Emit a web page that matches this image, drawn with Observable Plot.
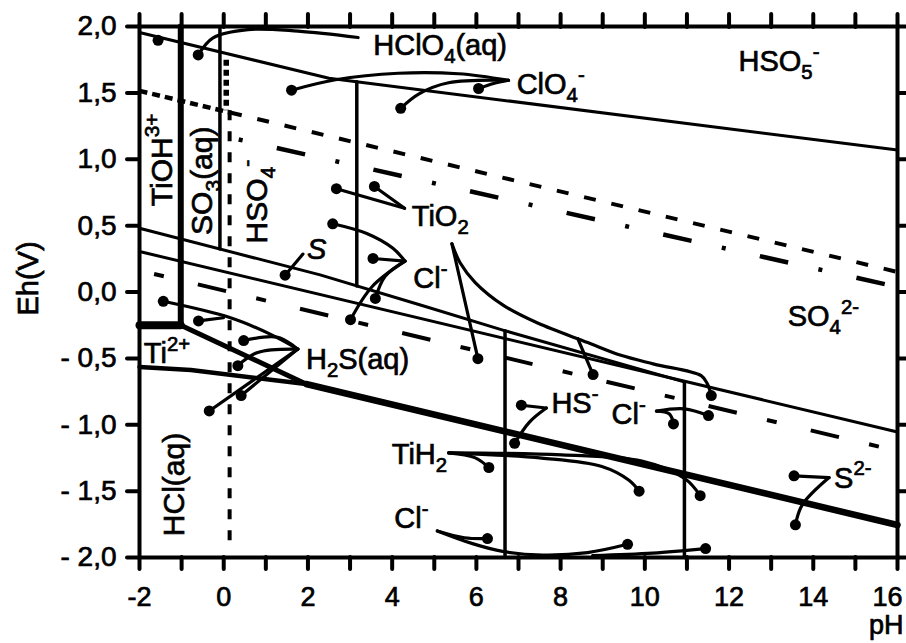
<!DOCTYPE html>
<html>
<head>
<meta charset="utf-8">
<script src="https://cdn.jsdelivr.net/npm/d3@7"></script>
<script src="https://cdn.jsdelivr.net/npm/@observablehq/plot@0.6"></script>
<style>
  body { margin: 0; background: #fff; }
  #chart svg { display: block; }
  #chart svg text { stroke: #000; stroke-width: 0.7px; }
</style>
</head>
<body>
<div id="chart"></div>
<script>
// ---------- axis ticks ----------
const phTicks = [-2, -1, 0, 1, 2, 3, 4, 5, 6, 7, 8, 9, 10, 11, 12, 13, 14, 15, 16];
const phTickLabels = ["-2", "", "0", "", "2", "", "4", "", "6", "", "8", "", "10", "", "12", "", "14", "", "16"];
const phEdgeTicks = [16];
const ehTicks = [-2, -1.5, -1, -0.5, 0, 0.5, 1, 1.5, 2];
const ehTickLabels = ["- 2,0", "- 1,5", "- 1,0", "- 0,5", "0,0", "0,5", "1,0", "1,5", "2,0"];

// ---------- boundary lines [pH, Eh] ----------
const lineHSO5 = [[-2, 1.955], [2.5, 1.61], [16, 1.069]];
const lineA = [[-2, 0.48], [2.289, 0.129], [4.671, -0.098], [6.648, -0.289], [10.934, -0.677]];
const lineB = [[-2, 0.305], [16, -1.054]];
const vTiOH = [[-1.02, 2], [-1.02, -0.25]];
const hTi2 = [[-2, -0.25], [-1.02, -0.25]];
const diagTi2 = [[-1.02, -0.25], [1.955, -0.693]];
const lowTi2 = [[-2, -0.565], [-0.78, -0.588], [1.955, -0.693]];
const lowThick = [[1.955, -0.693], [16, -1.755]];
const vSO3 = [[-0.09, 2], [-0.09, 0.324]];
const vTiO2 = [[3.16, 1.584], [3.16, 0.046]];
const vHS = [[6.68, -0.292], [6.68, -2]];
const vCl = [[10.94, -0.677], [10.94, -2]];
// dashed / dotted lines
const dotO2 = [[-2, 1.515], [0.15, 1.352]];
const dashO2 = [[0.15, 1.352], [16, 0.151]];
const dashDotUp = [[0.171, 1.162], [16, 0.038]];
const dashDotLow = [[-2, 0.162], [16, -1.198]];
const dotVert = [[0.06, 1.75], [0.06, 1.37]];
const dashVert = [[0.14, 1.37], [0.14, -1.94]];

// ---------- leader lines ----------
const leaders = [
  [[-0.606, 1.786], [-0.253, 1.915], [0.577, 1.977], [1.764, 1.965], [3.191, 1.917]],
  [[1.61, 1.52], [2.654, 1.599], [4.148, 1.648], [5.574, 1.644], [6.763, 1.595]],
  [[4.203, 1.384], [4.628, 1.491], [5.338, 1.576], [6.763, 1.595]],
  [[6.052, 1.533], [6.407, 1.571], [6.763, 1.595]],
  [[2.676, 0.778], [4.295, 0.631]],
  [[3.578, 0.795], [4.295, 0.631]],
  [[5.419, 0.363], [6.036, -0.502]],
  [[5.419, 0.363], [5.613, 0.2205], [5.973, 0.071], [6.643, -0.101], [7.454, -0.234], [8.646, -0.381],
   [9.432, -0.477], [10.218, -0.543], [11.337, -0.63], [11.481, -0.69], [11.578, -0.78]],
  [[8.407, -0.352], [8.771, -0.622]],
  [[2.588, 0.514], [3.397, 0.4405], [4.018, 0.329], [4.305, 0.232]],
  [[3.545, 0.2525], [4.305, 0.232]],
  [[3.601, -0.0486], [3.834, 0.118], [4.305, 0.232]],
  [[3.011, -0.2085], [3.527, 0.0416], [4.305, 0.232]],
  [[1.458, 0.1263], [1.881, 0.2857]],
  [[-1.435, -0.07], [0.16, -0.194], [1.114, -0.319], [1.758, -0.43]],
  [[-0.599, -0.218], [-0.006, -0.194]],
  [[0.474, -0.366], [1.281, -0.341], [1.758, -0.43]],
  [[0.336, -0.555], [0.809, -0.455], [1.758, -0.43]],
  [[-0.3435, -0.896], [1.758, -0.43]],
  [[0.414, -0.78], [1.758, -0.43]],
  [[7.067, -0.853], [7.661, -0.874]],
  [[7.661, -0.874], [7.26, -0.98], [6.908, -1.1395]],
  [[10.275, -0.897], [10.94, -0.88], [11.511, -0.931]],
  [[10.275, -0.897], [10.584, -0.9185], [10.68, -0.994]],
  [[5.342, -1.2115], [5.961, -1.2475], [6.296, -1.322]],
  [[5.342, -1.2115], [7.553, -1.251], [8.98, -1.3146], [9.624, -1.4184], [9.864, -1.5006]],
  [[5.342, -1.2115], [8.027, -1.227], [9.929, -1.2744], [10.954, -1.407], [11.314, -1.534]],
  [[5.073, -1.8], [5.716, -1.851], [6.263, -1.857]],
  [[5.073, -1.8], [5.908, -1.8956], [6.622, -1.954], [7.573, -1.981], [8.641, -1.963], [9.59, -1.9006]],
  [[8.76, -1.9857], [10.185, -1.967], [11.443, -1.933]],
  [[13.543, -1.385], [14.374, -1.398]],
  [[14.374, -1.398], [13.739, -1.603], [13.576, -1.754]]
];

// leader end dots
const leaderDots = [
  [-1.559, 1.896], [-0.606, 1.786], [1.61, 1.52], [4.203, 1.384], [6.052, 1.533],
  [2.676, 0.778], [3.578, 0.795], [6.036, -0.502], [11.578, -0.78], [8.771, -0.622],
  [2.588, 0.514], [3.545, 0.2525], [3.601, -0.0486], [3.011, -0.2085], [1.458, 0.1263],
  [-1.435, -0.07], [-0.599, -0.218], [0.474, -0.366], [0.336, -0.555], [-0.3435, -0.896], [0.414, -0.78],
  [7.067, -0.853], [6.908, -1.1395], [11.511, -0.931], [10.68, -0.994],
  [6.296, -1.322], [9.864, -1.5006], [11.314, -1.534],
  [6.263, -1.857], [9.59, -1.9006], [11.443, -1.933],
  [13.543, -1.385], [13.576, -1.754]
];

// ---------- species labels ----------
const labelText = ["HClO_4(aq)", "ClO_4^-", "HSO_5^-", "TiO_2", "Cl^-", "Ti^{2+}", "H_2S(aq)",
                   "HS^-", "Cl^-", "TiH_2", "Cl^-", "S^{2-}", "SO_4^{2-}"];
const labelPH = [3.551, 6.956, 12.225, 4.465, 4.501, -1.897, 1.952, 7.781, 9.209, 3.991, 4.051, 14.495, 13.393];
const labelEh = [1.789, 1.49, 1.662, 0.496, 0.029, -0.538, -0.58, -0.911, -0.998, -1.298, -1.78, -1.473, -0.255];
const italicText = ["S"];
const italicPH = [1.977];
const italicEh = [0.248];
const vertText = ["TiOH^{3+}", "SO_3(aq)", "HSO_4^-", "HCl(aq)"];
const vertPH = [-1.24, -0.284, 1.024, -0.935];
const vertEh = [0.646, 0.43, 0.366, -1.839];

// ---------- build ----------
const toRows = (t, x, y) => t.map((s, i) => ({text: s, pH: x[i], Eh: y[i]}));
const labels = toRows(labelText, labelPH, labelEh);
const italicLabels = toRows(italicText, italicPH, italicEh);
const vertLabels = toRows(vertText, vertPH, vertEh);
const phFmt = new Map(phTicks.map((d, i) => [d, phTickLabels[i]]));
const ehFmt = new Map(ehTicks.map((d, i) => [d, ehTickLabels[i]]));

const ln = (pts, opts) => Plot.line(pts, {x: d => d[0], y: d => d[1], stroke: "black", ...opts});

const chart = Plot.plot({
  width: 906, height: 643,
  marginLeft: 139, marginRight: 9, marginTop: 26, marginBottom: 86,
  x: {domain: [-2, 16]},
  y: {domain: [-2, 2]},
  style: {fontFamily: "'Liberation Sans', Arial, sans-serif", background: "white", color: "black", overflow: "visible"},
  marks: [
    // boundaries
    ln(lineHSO5, {strokeWidth: 3}),
    ln(lineA, {strokeWidth: 3}),
    ln(lineB, {strokeWidth: 3}),
    ln(vSO3, {strokeWidth: 3.5}),
    ln(vTiO2, {strokeWidth: 3.5}),
    ln(vHS, {strokeWidth: 3.5}),
    ln(vCl, {strokeWidth: 3.5}),
    ln(vTiOH, {strokeWidth: 6}),
    ln(hTi2, {strokeWidth: 8}),
    ln(diagTi2, {strokeWidth: 5}),
    ln(lowTi2, {strokeWidth: 4.5}),
    ln(lowThick, {strokeWidth: 6.5}),
    // dashed
    ln(dotO2, {strokeWidth: 4.5, strokeDasharray: "8,5", strokeLinecap: "butt"}),
    ln(dashO2, {strokeWidth: 4, strokeDasharray: "12,16", strokeLinecap: "butt"}),
    ln(dashDotUp, {strokeWidth: 4.5, strokeDasharray: "29,31,4,35", strokeDashoffset: 52, strokeLinecap: "butt"}),
    ln(dashDotLow, {strokeWidth: 4, strokeDasharray: "10,35,29,31", strokeDashoffset: 90, strokeLinecap: "butt"}),
    ln(dotVert, {strokeWidth: 5.5, strokeDasharray: "6,4", strokeLinecap: "butt"}),
    ln(dashVert, {strokeWidth: 4, strokeDasharray: "10,11", strokeLinecap: "butt"}),
    // leaders
    ...leaders.map(pts => ln(pts, {strokeWidth: 3.2, curve: "catmull-rom"})),
    Plot.dot(leaderDots, {x: d => d[0], y: d => d[1], r: 5.5, fill: "black"}),
    // labels
    Plot.text(labels, {x: "pH", y: "Eh", text: "text", textAnchor: "start", lineAnchor: "bottom", fontSize: 29, fill: "black"}),
    Plot.text(italicLabels, {x: "pH", y: "Eh", text: "text", textAnchor: "start", lineAnchor: "bottom", fontSize: 29, fontStyle: "italic", fill: "black"}),
    Plot.text(vertLabels, {x: "pH", y: "Eh", text: "text", textAnchor: "start", lineAnchor: "bottom", fontSize: 30, rotate: -90, fill: "black"}),
    // axes
    Plot.axisX({anchor: "bottom", ticks: phTicks, tickFormat: d => (phEdgeTicks.includes(d) ? "" : phFmt.get(d)), tickSize: 12, tickPadding: 17,
                fontSize: 27, strokeWidth: 4, strokeLinecap: "round", label: null}),
    Plot.axisX({anchor: "bottom", ticks: phEdgeTicks, tickFormat: d => phFmt.get(d), tickSize: 12, tickPadding: 17,
                fontSize: 27, stroke: "none", dx: -10, label: null}),
    Plot.axisX({anchor: "top", ticks: phTicks, tickFormat: () => "", tickSize: 13, strokeWidth: 4, strokeLinecap: "round", label: null}),
    Plot.axisY({anchor: "left", ticks: ehTicks, tickFormat: d => ehFmt.get(d), tickSize: 12, tickPadding: 11,
                fontSize: 28, strokeWidth: 4, strokeLinecap: "round", label: null}),
    Plot.axisY({anchor: "right", ticks: ehTicks, tickFormat: () => "", tickSize: 8, strokeWidth: 4, strokeLinecap: "round", label: null}),
    Plot.frame({stroke: "black", strokeWidth: 4}),
    Plot.text(["pH"], {x: () => 16, y: () => -2, text: d => d, textAnchor: "end", lineAnchor: "bottom", dx: 6, dy: 76, fontSize: 27, fill: "black"}),
    Plot.text(["Eh(V)"], {x: () => -2, y: () => 0.102, text: d => d, textAnchor: "middle", lineAnchor: "middle", rotate: -90, dx: -111, fontSize: 29, fill: "black"})
  ]
});
document.getElementById("chart").append(chart);

// turn _x / ^x markup into real sub/superscript tspans
function richify(root) {
  root.querySelectorAll("text").forEach(el => {
    const s = el.textContent;
    if (!/[_^]/.test(s)) return;
    const fs = parseFloat(getComputedStyle(el).fontSize) || 29;
    const segs = [];
    let i = 0, buf = "";
    while (i < s.length) {
      const c = s[i];
      if (c === "_" || c === "^") {
        if (buf) { segs.push({t: buf, m: 0}); buf = ""; }
        let t;
        if (s[i + 1] === "{") { const j = s.indexOf("}", i + 2); t = s.slice(i + 2, j); i = j + 1; }
        else { t = s[i + 1]; i += 2; }
        segs.push({t, m: c === "_" ? 1 : -1});
      } else { buf += c; i++; }
    }
    if (buf) segs.push({t: buf, m: 0});
    el.textContent = "";
    let cur = 0;
    for (const sg of segs) {
      const target = sg.m === 1 ? 0.28 * fs : sg.m === -1 ? -0.42 * fs : 0;
      const ts = document.createElementNS("http://www.w3.org/2000/svg", "tspan");
      ts.setAttribute("dy", (target - cur).toFixed(2));
      if (sg.m) ts.setAttribute("font-size", (0.7 * fs).toFixed(1));
      ts.textContent = sg.t;
      el.appendChild(ts);
      cur = target;
    }
  });
}
richify(chart);
</script>
</body>
</html>
